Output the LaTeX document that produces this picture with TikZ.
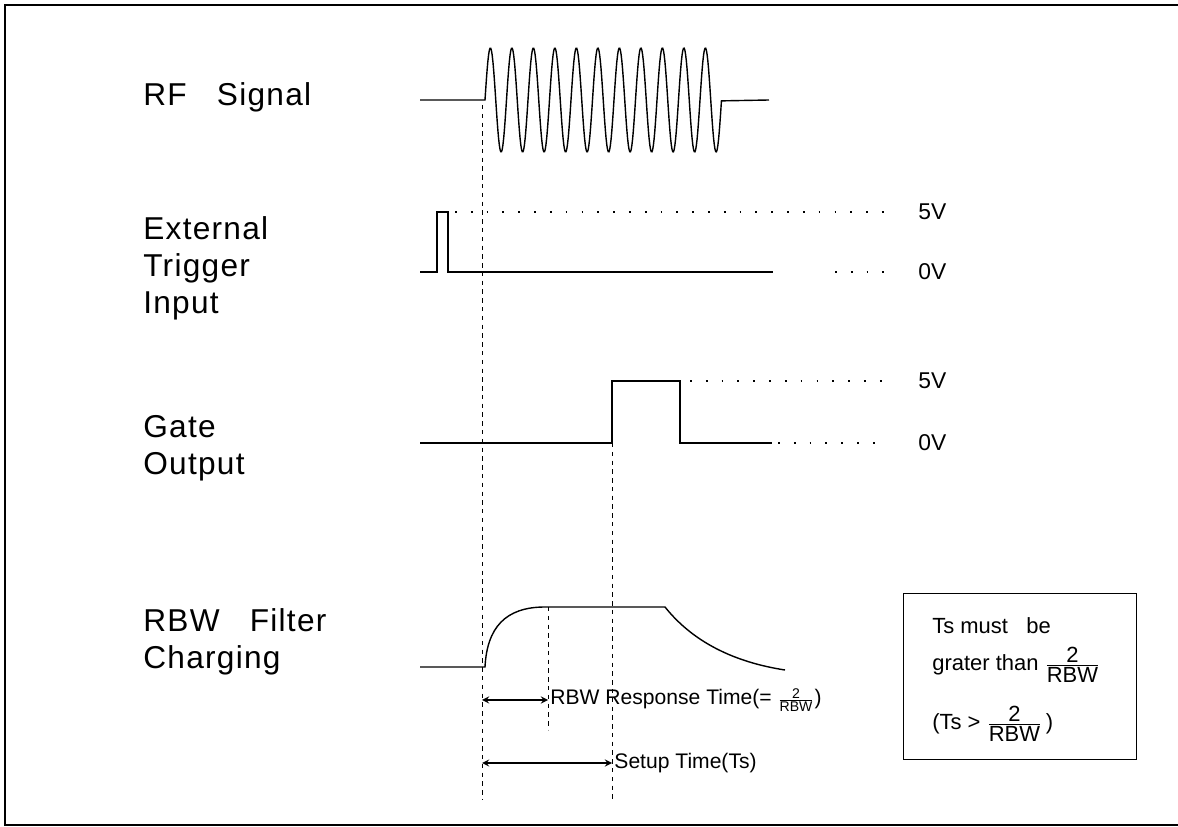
\documentclass[tikz,border=0pt]{standalone}
\usepackage{amsmath}
\usepackage{fontspec}
\usepackage{tikz}

\newfontfamily\lblfont{Liberation Sans}[LetterSpace=4,WordSpace=3]
\newfontfamily\txtfont{Liberation Sans}
\newcommand{\rbwfrac}{$\frac{\mbox{2}}{\mbox{RBW}}$}

\begin{document}
\begin{tikzpicture}[x=0.02cm, y=-0.02cm, >=stealth,
    sig/.style={line width=0.8pt},
    tline/.style={dash pattern=on 2.5pt off 2.5pt, line width=0.5pt},
    lvl/.style={dash pattern=on 1pt off 8pt, line width=0.6pt},
    sig label/.style={font=\lblfont\fontsize{18}{21}\selectfont, align=left, anchor=north west, inner sep=0pt},
    volt/.style={font=\txtfont\fontsize{13}{15}\selectfont, anchor=west, inner sep=0pt},
    note/.style={font=\txtfont\fontsize{12.5}{15}\selectfont, anchor=base west, inner sep=0pt}]
    \useasboundingbox (0,0) rectangle (1178,827);

    % --- Outer frame ---
    \draw[line width=1.2pt] (1178,5) -- (5,5) -- (5,825) -- (1178,825);

    % --- Signal names on the left ---
    \node[sig label] (rf lbl) at (143,82) {RF Signal};
    \node[sig label] (trg lbl) at (143,216) {External\\Trigger\\Input};
    \node[sig label] (gate lbl) at (143,415) {Gate\\Output};
    \node[sig label] (rbw lbl) at (143,608) {RBW Filter\\Charging};

    % --- RF signal burst ---
    \draw[sig] (420,100) -- (485,100)
        -- plot[domain=0:11, samples=331] ({485+21.5*\x},{100-52*sin(360*\x)})
        -- (769,100);

    % --- External trigger pulse ---
    \draw[sig] (420,272) -- (437,272) -- (437,212) -- (448,212) -- (448,272) -- (773,272);
    \draw[lvl] (455,212) -- (885,212);
    \draw[lvl] (835,272) -- (885,272);
    \node[volt] (trg hi) at (918,212) {5V};
    \node[volt] (trg lo) at (918,272) {0V};

    % --- Gate output ---
    \draw[sig] (420,443) -- (612,443) -- (612,381) -- (680,381) -- (680,443) -- (772,443);
    \draw[lvl] (690,381) -- (885,381);
    \draw[lvl] (778,443) -- (885,443);
    \node[volt] (gate hi) at (918,381) {5V};
    \node[volt] (gate lo) at (918,443) {0V};

    % --- RBW filter charging curve ---
    \draw[sig] (420,667) -- (485,667)
        .. controls (487,628) and (505,607) .. (545,607) -- (665,607)
        .. controls (685,632) and (720,660) .. (785,670);

    % --- Time marks ---
    \draw[tline] (482,105) -- (482,800);
    \draw[tline] (548,607) -- (548,730);
    \draw[tline] (612,443) -- (612,800);

    % --- Response time and setup time ---
    \coordinate (rsp start) at (482,700);
    \coordinate (rsp end) at (548,700);
    \coordinate (setup start) at (482,763);
    \coordinate (setup end) at (612,763);
    \draw[<->, sig] (rsp start) -- (rsp end)
        node[right, inner sep=1pt, font=\txtfont\fontsize{12}{14}\selectfont] (rsp lbl)
        {RBW Response Time(= {\fontsize{8}{9}\selectfont\rbwfrac})};
    \draw[<->, sig] (setup start) -- (setup end)
        node[right, inner sep=1pt, font=\txtfont\fontsize{12}{14}\selectfont] (setup lbl)
        {Setup Time(Ts)};

    % --- Note box ---
    \node[draw, line width=0.6pt, minimum width=133pt, minimum height=95pt, inner sep=0pt] (notebox) at (1020,676.5) {};
    \node[note] (note1) at (932,634) {Ts must \ \ be};
    \node[note] (note2) at (932,671) {grater than \rbwfrac};
    \node[note] (note3) at (932,730) {(Ts > \rbwfrac\,)};
\end{tikzpicture}
\end{document}
